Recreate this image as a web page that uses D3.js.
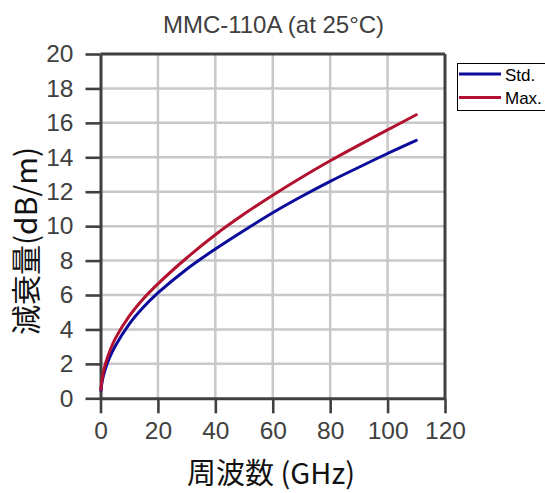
<!DOCTYPE html>
<html><head><meta charset="utf-8">
<script src="https://cdn.jsdelivr.net/npm/d3@7"></script>
<style>body{margin:0;background:#fff}svg{display:block}</style>
</head><body><svg id="c" width="545" height="493"></svg>
<script>
const freqs     = [0.15, 0.5, 1, 2, 3, 5, 10, 15, 20, 30, 40, 50, 60, 70, 80, 90, 100, 110];
const stdValues = [0.45, 0.9, 1.3, 1.86, 2.3, 2.99, 4.31, 5.3, 6.12, 7.5, 8.67, 9.75, 10.78, 11.72, 12.6, 13.42, 14.22, 14.98];
const maxValues = [0.5, 1.05, 1.53, 2.15, 2.65, 3.42, 4.77, 5.8, 6.65, 8.15, 9.5, 10.7, 11.8, 12.83, 13.8, 14.71, 15.59, 16.47];
const seriesNames = ["Std.", "Max."];
const seriesColors = ["#0b0b9c", "#b2112f"];
const xTicks = [0, 20, 40, 60, 80, 100, 120];
const yTicks = [0, 2, 4, 6, 8, 10, 12, 14, 16, 18, 20];
const titleText = "MMC-110A (at 25°C)";
const xLabelText = "周波数 (GHz)";
const yLabelText = "減衰量(dB/m)";

const svg = d3.select("#c");
const L = 100.5, R = 445, T = 54, B = 398.3;
const x = d3.scaleLinear().domain([0, 120]).range([L, R]);
const y = d3.scaleLinear().domain([0, 20]).range([B, T]);
const axisCol = "#404040";

// grid
svg.append("g").selectAll("line").data(xTicks.filter(d => d > 0 && d < 120)).join("line")
  .attr("x1", d => x(d)).attr("x2", d => x(d)).attr("y1", T).attr("y2", B)
  .attr("stroke", "#c8c8c8").attr("stroke-width", 2.5);
svg.append("g").selectAll("line").data(yTicks.filter(d => d > 0 && d < 20)).join("line")
  .attr("y1", d => y(d)).attr("y2", d => y(d)).attr("x1", L).attr("x2", R)
  .attr("stroke", "#c8c8c8").attr("stroke-width", 2.5);

// axes
const xAxis = svg.append("g").attr("transform", `translate(0,${B})`)
  .call(d3.axisBottom(x).tickValues(xTicks).tickSize(15).tickPadding(8).tickSizeOuter(0));
const yAxis = svg.append("g").attr("transform", `translate(${L},0)`)
  .call(d3.axisLeft(y).tickValues(yTicks).tickSize(15).tickPadding(12).tickSizeOuter(0));
[xAxis, yAxis].forEach(a => {
  a.select(".domain").attr("stroke", axisCol).attr("stroke-width", 3);
  a.selectAll(".tick line").attr("stroke", axisCol).attr("stroke-width", 2.6);
  a.selectAll(".tick text").attr("fill", "#404040")
    .style("font-family", "'Liberation Sans', Arial, sans-serif").style("font-size", "24.5px");
});
// top & right frame
svg.append("line").attr("x1", L).attr("x2", R).attr("y1", T).attr("y2", T).attr("stroke", axisCol).attr("stroke-width", 3);
svg.append("line").attr("x1", R).attr("x2", R).attr("y1", T).attr("y2", B).attr("stroke", axisCol).attr("stroke-width", 3);

// lines
const line = d3.line().x(d => x(d[0])).y(d => y(d[1])).curve(d3.curveCatmullRom.alpha(0.5));
[stdValues, maxValues].forEach((vals, i) => {
  svg.append("path").datum(freqs.map((f, j) => [f, vals[j]]))
    .attr("d", line).attr("fill", "none").attr("stroke", seriesColors[i])
    .attr("stroke-width", 3).attr("stroke-linecap", "round");
});

// title
svg.append("text").attr("x", 273.5).attr("y", 33).attr("text-anchor", "middle")
  .attr("fill", "#404040").style("font-family", "'Liberation Sans', Arial, sans-serif")
  .style("font-size", "24px").text(titleText);

// axis labels
svg.append("text").attr("x", 271).attr("y", 484).attr("text-anchor", "middle")
  .attr("fill", "#111").style("font-family", "'Noto Sans CJK JP', sans-serif")
  .style("font-size", "29px").text(xLabelText);
svg.append("text").attr("transform", "translate(37,241) rotate(-90)").attr("text-anchor", "middle")
  .attr("fill", "#111").style("font-family", "'Noto Sans CJK JP', sans-serif")
  .style("font-size", "30px").text(yLabelText);

// legend
const lg = svg.append("g");
lg.append("rect").attr("x", 457.5).attr("y", 63.5).attr("width", 95).attr("height", 47)
  .attr("fill", "#fff").attr("stroke", "#000").attr("stroke-width", 1);
seriesNames.forEach((n, i) => {
  const yy = 74 + i * 23.5;
  lg.append("line").attr("x1", 459).attr("x2", 501).attr("y1", yy).attr("y2", yy)
    .attr("stroke", seriesColors[i]).attr("stroke-width", 3);
  lg.append("text").attr("x", 505).attr("y", yy + 6.5).attr("fill", "#000")
    .style("font-family", "'Liberation Sans', Arial, sans-serif").style("font-size", "17px").text(n);
});
</script></body></html>
